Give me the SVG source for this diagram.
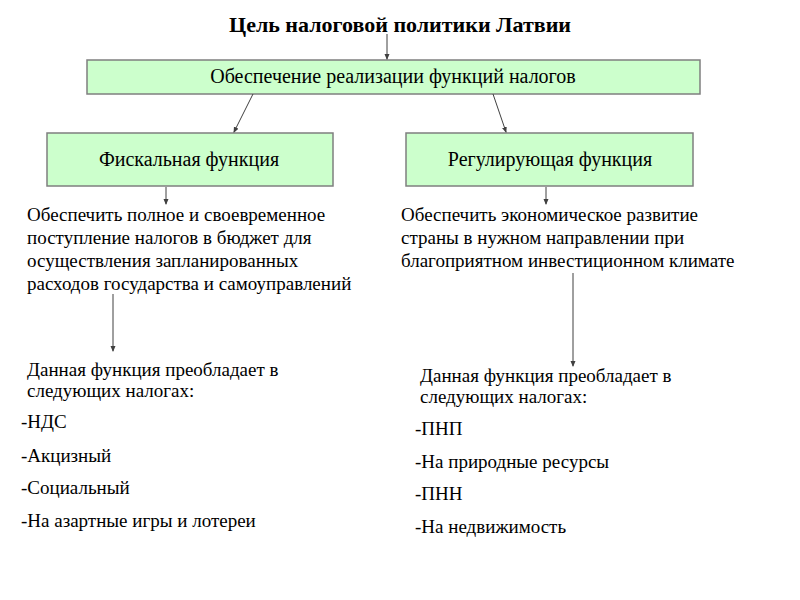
<svg xmlns="http://www.w3.org/2000/svg" width="800" height="600" viewBox="0 0 800 600">
<defs>
<marker id="ah" markerWidth="6" markerHeight="6" refX="5" refY="3" orient="auto" markerUnits="userSpaceOnUse">
<path d="M0,0.5 L6,3 L0,5.5 z" fill="#404040"/>
</marker>
<style>
.box{fill:#ccffcc;stroke:#7f7f7f;stroke-width:1.5}
.c{stroke:#404040;stroke-width:1;fill:none;marker-end:url(#ah)}
</style>
</defs>
<rect width="800" height="600" fill="#fff"/>
<g font-family="'Liberation Serif', 'DejaVu Serif', serif" font-size="19" fill="#000">
<g id="title"><text font-weight="bold" font-size="22" x="400" y="32" text-anchor="middle">Цель налоговой политики Латвии</text></g>
<g id="main"><rect class="box" x="87" y="60" width="613" height="34"/><text font-size="20" x="393" y="83" text-anchor="middle">Обеспечение реализации функций налогов</text></g>
<g id="fiscal"><rect class="box" x="47" y="133" width="286" height="53"/><text font-size="20" x="189" y="166" text-anchor="middle">Фискальная функция</text></g>
<g id="regul"><rect class="box" x="406" y="133" width="287" height="53"/><text font-size="20" x="550" y="166" text-anchor="middle">Регулирующая функция</text></g>
<g id="fiscal-goal"><text x="27" y="221">Обеспечить полное и своевременное</text><text x="27" y="244">поступление налогов в бюджет для</text><text x="27" y="267">осуществления запланированных</text><text x="27" y="290">расходов государства и самоуправлений</text></g>
<g id="regul-goal"><text x="401" y="221">Обеспечить экономическое развитие</text><text x="401" y="244">страны в нужном направлении при</text><text x="401" y="267">благоприятном инвестиционном климате</text></g>
<g id="fiscal-taxes"><text x="27" y="376">Данная функция преобладает в</text><text x="27" y="397">следующих налогах:</text><text x="21" y="428">-НДС</text><text x="21" y="462">-Акцизный</text><text x="21" y="494">-Социальный</text><text x="21" y="527">-На азартные игры и лотереи</text></g>
<g id="regul-taxes"><text x="420" y="382">Данная функция преобладает в</text><text x="420" y="403">следующих налогах:</text><text x="415" y="435">-ПНП</text><text x="415" y="468">-На природные ресурсы</text><text x="415" y="500">-ПНН</text><text x="415" y="533">-На недвижимость</text></g>
</g>
<g id="connectors">
<line class="c" x1="387" y1="34" x2="387" y2="59"/>
<line class="c" x1="253" y1="94" x2="234" y2="132"/>
<line class="c" x1="493" y1="94" x2="506" y2="132"/>
<line class="c" x1="166" y1="187" x2="166" y2="204"/>
<line class="c" x1="546" y1="187" x2="546" y2="204"/>
<line class="c" x1="113" y1="294" x2="113" y2="351"/>
<line class="c" x1="573" y1="273" x2="573" y2="366"/>
</g>
</svg>
